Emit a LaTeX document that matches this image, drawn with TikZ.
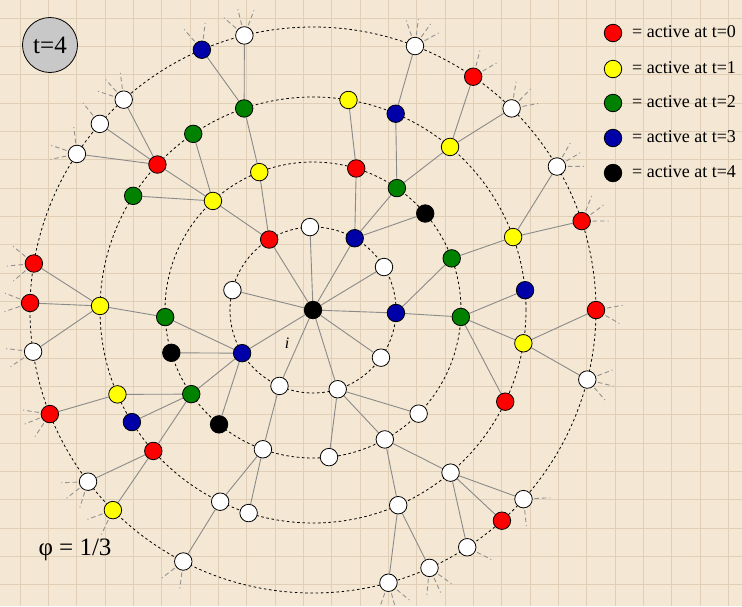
\documentclass[tikz,border=0pt]{standalone}
\usepackage{fontspec}
\setmainfont{Liberation Serif}
\usetikzlibrary{calc}
\definecolor{nred}{HTML}{FF0000}
\definecolor{nyellow}{HTML}{FFFF00}
\definecolor{ngreen}{HTML}{008200}
\definecolor{nblue}{HTML}{0000A8}
\definecolor{linkgray}{HTML}{8A8A8A}
\definecolor{stubgray}{HTML}{939393}
\definecolor{paper}{HTML}{F4E7D3}
\definecolor{gridc}{HTML}{E0CFB6}
\definecolor{tgray}{HTML}{C8C8C8}
\pgfdeclarelayer{bg}\pgfdeclarelayer{mid}\pgfsetlayers{bg,mid,main}
\newcommand\pnode[5]{\node[#1] (#2) at ($(O)!#3pt!(#4,#5)$) {};}
\newcommand\stubs[2]{\foreach \a in {#2}{\draw[stubline] ($(#1.center)!-11pt!\a:(O)$) -- ($(#1.center)!-27pt!\a:(O)$);}}
\begin{document}
\begin{tikzpicture}[x=1pt,y=-1pt,
 nd/.style={circle, draw=black, line width=0.8pt, minimum size=17.5pt, inner sep=0pt},
 wn/.style={nd, fill=white}, rn/.style={nd, fill=nred}, yn/.style={nd, fill=nyellow},
 gn/.style={nd, fill=ngreen}, bn/.style={nd, fill=nblue}, kn/.style={nd, fill=black},
 link/.style={draw=linkgray, line width=0.9pt},
 ringline/.style={draw=black, dash pattern=on 2.6pt off 2.6pt, line width=0.8pt},
 stubline/.style={draw=stubgray, dash pattern=on 4.5pt off 3pt, line width=0.9pt},
 gridline/.style={draw=gridc, line width=0.55pt},
 legtext/.style={anchor=base west, inner sep=0pt, font=\fontsize{18}{20}\selectfont}]
\useasboundingbox (0,0) rectangle (742,606);
\coordinate (O) at (313,310);
% center
\node[kn] (c) at (O) {};
% ring 1
\pnode{rn}{a1}{83}{267}{236}
\pnode{wn}{a2}{83}{310}{228}
\pnode{bn}{a3}{83}{356}{236}
\pnode{wn}{a4}{83}{384}{267}
\pnode{bn}{a5}{83}{396}{313}
\pnode{wn}{a6}{83}{380}{357}
\pnode{wn}{a7}{83}{337}{387}
\pnode{wn}{a8}{83}{279}{387}
\pnode{bn}{a9}{83}{244}{352}
\pnode{wn}{a10}{83}{232}{290}
% ring 2
\pnode{yn}{b1}{148}{260}{174}
\pnode{yn}{b2}{148}{213}{201}
\pnode{rn}{b3}{148}{357}{166}
\pnode{gn}{b4}{148}{399}{185}
\pnode{kn}{b5}{148}{427}{212}
\pnode{gn}{b6}{148}{450}{259}
\pnode{gn}{b7}{148}{462}{317}
\pnode{wn}{b8}{148}{419}{414}
\pnode{wn}{b9}{148}{384}{438}
\pnode{wn}{b10}{148}{329}{457}
\pnode{wn}{b11}{148}{263}{449}
\pnode{kn}{b12}{148}{221}{422}
\pnode{gn}{b13}{148}{190}{395}
\pnode{kn}{b14}{148}{174}{352}
\pnode{gn}{b15}{148}{167}{317}
% ring 3
\pnode{gn}{c1}{213}{244}{108}
\pnode{rn}{c2}{213}{159}{166}
\pnode{gn}{c3}{213}{194}{135}
\pnode{gn}{c4}{213}{135}{197}
\pnode{yn}{c5}{213}{349}{97}
\pnode{bn}{c6}{213}{396}{113}
\pnode{yn}{c7}{213}{450}{147}
\pnode{yn}{c8}{213}{516}{236}
\pnode{bn}{c9}{213}{527}{290}
\pnode{yn}{c10}{213}{528}{344}
\pnode{rn}{c11}{213}{508}{403}
\pnode{wn}{c12}{213}{450}{472}
\pnode{wn}{c13}{213}{399}{507}
\pnode{wn}{c14}{213}{248}{515}
\pnode{wn}{c15}{213}{221}{500}
\pnode{rn}{c16}{213}{151}{453}
\pnode{bn}{c17}{213}{132}{422}
\pnode{yn}{c18}{213}{116}{395}
\pnode{yn}{c19}{213}{103}{306}
% ring 4
\pnode{wn}{d1}{283}{244}{34}
\pnode{bn}{d2}{283}{202}{50}
\pnode{wn}{d3}{283}{124}{100}
\pnode{wn}{d4}{283}{100}{124}
\pnode{wn}{d5}{283}{77}{154}
\pnode{wn}{d6}{283}{415}{46}
\pnode{rn}{d7}{283}{473}{77}
\pnode{wn}{d8}{283}{512}{108}
\pnode{wn}{d9}{283}{551}{170}
\pnode{rn}{d10}{283}{582}{221}
\pnode{rn}{d11}{283}{601}{310}
\pnode{wn}{d12}{283}{589}{380}
\pnode{wn}{d13}{283}{520}{496}
\pnode{rn}{d14}{283}{504}{523}
\pnode{wn}{d15}{283}{469}{550}
\pnode{wn}{d16}{283}{430}{569}
\pnode{wn}{d17}{283}{388}{581}
\pnode{wn}{d18}{283}{183}{562}
\pnode{wn}{d19}{283}{85}{484}
\pnode{yn}{d20}{283}{116}{507}
\pnode{rn}{d21}{283}{50}{414}
\pnode{rn}{d22}{283}{31}{263}
\pnode{rn}{d23}{283}{31}{303}
\pnode{wn}{d24}{283}{31}{352}
% labels
\node[circle, draw=black, line width=0.8pt, fill=tgray, minimum size=55pt, inner sep=0pt,
      font=\fontsize{25}{30}\selectfont] (tbox) at (50,45) {t=4};
\node[font=\fontsize{25}{30}\selectfont, inner sep=0pt] (phi) at (75,550) {φ = 1/3};
\node[font=\fontsize{16}{18}\selectfont\itshape, inner sep=0pt] (ilab) at (287,343) {i};
% legend
\node[rn] (l0) at (613,33) {};
\node[yn] (l1) at (613,69) {};
\node[gn] (l2) at (613,103) {};
\node[bn] (l3) at (613,138) {};
\node[kn] (l4) at (613,173) {};
\node[legtext] (t0) at (632,37.5) {= active at t=0};
\node[legtext] (t1) at (632,73.5) {= active at t=1};
\node[legtext] (t2) at (632,107.5) {= active at t=2};
\node[legtext] (t3) at (632,142.5) {= active at t=3};
\node[legtext] (t4) at (632,177.5) {= active at t=4};
\begin{pgfonlayer}{bg}
\fill[paper] (0,0) rectangle (742,606);
\foreach \i in {0,...,25} \draw[gridline] ({20+28.333*\i},0) -- ({20+28.333*\i},606);
\foreach \j in {0,...,20} \draw[gridline] (0,{18+28.333*\j}) -- (742,{18+28.333*\j});
\draw[ringline] (O) circle[radius=83pt];
\draw[ringline] (O) circle[radius=148pt];
\draw[ringline] (O) circle[radius=213pt];
\draw[ringline] (O) circle[radius=283pt];
\end{pgfonlayer}
\begin{pgfonlayer}{mid}
\foreach \p/\q in {c/a1,c/a2,c/a3,c/a4,c/a5,c/a6,c/a7,c/a8,c/a9,c/a10,
  a1/b1,a1/b2,a3/b3,a3/b4,a3/b5,a5/b6,a5/b7,a7/b8,a7/b9,a7/b10,a8/b11,
  a9/b12,a9/b13,a9/b14,a9/b15,
  b1/c1,b2/c2,b2/c3,b2/c4,b3/c5,b4/c6,b4/c7,b6/c8,b7/c9,b7/c10,b7/c11,
  b9/c12,b9/c13,b11/c14,b11/c15,b13/c16,b13/c17,b13/c18,b15/c19,
  c1/d1,c1/d2,c2/d3,c2/d4,c2/d5,c6/d6,c7/d7,c7/d8,c8/d9,c8/d10,c10/d11,c10/d12,
  c12/d13,c12/d14,c12/d15,c13/d16,c13/d17,c15/d18,c16/d19,c16/d20,c18/d21,
  c19/d22,c19/d23,c19/d24}
  \draw[link] (\p) -- (\q);
\stubs{d1}{-35,0,35}
\stubs{d2}{-30,18}
\stubs{d3}{-35,0,30}
\stubs{d4}{-10}
\stubs{d5}{-50,15,45}
\stubs{d6}{-40,-14,14,40}
\stubs{d7}{-25,20}
\stubs{d8}{-35,0,35}
\stubs{d9}{-30,0,30}
\stubs{d10}{-18,18,50}
\stubs{d11}{-30,10}
\stubs{d12}{-35,0,35}
\stubs{d13}{-42,45}
\stubs{d15}{30}
\stubs{d16}{-30,0,30}
\stubs{d17}{-35,0,35}
\stubs{d18}{-25,20}
\stubs{d19}{-35,0,35}
\stubs{d20}{-25,20}
\stubs{d21}{-30,0,35}
\stubs{d22}{-30,15,50}
\stubs{d23}{-20,20}
\stubs{d24}{-15,25}
\end{pgfonlayer}
\end{tikzpicture}
\end{document}
